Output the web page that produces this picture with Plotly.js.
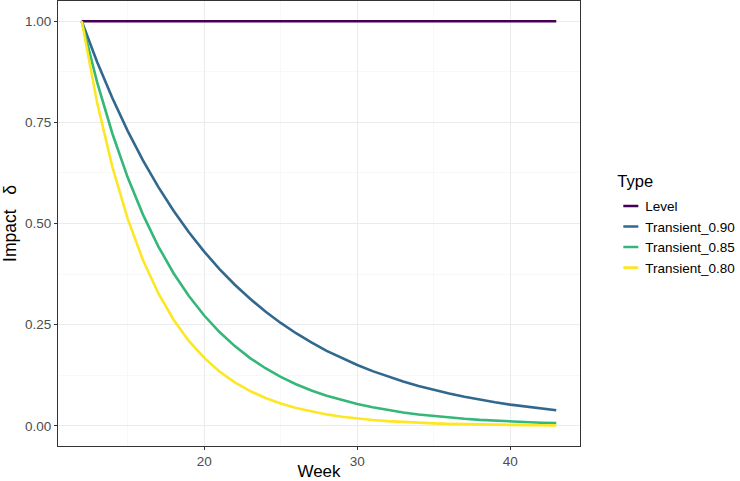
<!DOCTYPE html>
<html>
<head>
<meta charset="utf-8">
<script src="https://cdn.plot.ly/plotly-3.0.1.min.js"></script>
<style>html,body{margin:0;padding:0;background:#fff;}#chart{width:740px;height:481px;}</style>
</head>
<body>
<div id="chart"></div>
<script>
const weeks = [12,13,14,15,16,17,18,19,20,21,22,23,24,25,26,27,28,29,30,31,32,33,34,35,36,37,38,39,40,41,42,43];
const level = [1,1,1,1,1,1,1,1,1,1,1,1,1,1,1,1,1,1,1,1,1,1,1,1,1,1,1,1,1,1,1,1];
const transient090 = [1,0.9,0.81,0.729,0.6561,0.5905,0.5314,0.4783,0.4305,0.3874,0.3487,0.3138,0.2824,0.2542,0.2288,0.2059,0.1853,0.1668,0.1501,0.1351,0.1216,0.1094,0.0985,0.0886,0.0798,0.0718,0.0646,0.0582,0.0523,0.0471,0.0424,0.0382];
const transient085 = [1,0.85,0.7225,0.6141,0.5220,0.4437,0.3771,0.3206,0.2725,0.2316,0.1969,0.1673,0.1422,0.1209,0.1028,0.0874,0.0743,0.0631,0.0536,0.0456,0.0388,0.0329,0.0280,0.0238,0.0202,0.0172,0.0146,0.0124,0.0106,0.0090,0.0076,0.0065];
const transient080 = [1,0.8,0.64,0.512,0.4096,0.3277,0.2621,0.2097,0.1678,0.1342,0.1074,0.0859,0.0687,0.0550,0.0440,0.0352,0.0281,0.0225,0.0180,0.0144,0.0115,0.0092,0.0074,0.0059,0.0047,0.0038,0.0030,0.0024,0.0019,0.0015,0.0012,0.0010];
const seriesNames = ["Level","Transient_0.90","Transient_0.85","Transient_0.80"];
const seriesColors = ["#440154","#31688E","#35B779","#FDE725"];
const seriesData = [level, transient090, transient085, transient080];
const xTicks = [20,30,40];
const yTicks = [0,0.25,0.5,0.75,1];
const yTickText = ["0.00","0.25","0.50","0.75","1.00"];

const traces = seriesData.map((d,i)=>({
  x: weeks, y: d, type:"scatter", mode:"lines", name: seriesNames[i],
  line:{color:seriesColors[i], width:2.6}
}));

const axisCommon = {
  showline:true, mirror:true, linecolor:"#333333", linewidth:1.1,
  ticks:"outside", ticklen:3, tickcolor:"#333333", tickwidth:1,
  gridcolor:"#EBEBEB", gridwidth:1.1, zeroline:false, automargin:false,
  tickfont:{family:"Liberation Sans, Arial, sans-serif", size:13.5, color:"#4D4D4D"}
};
const layout = {
  width:740, height:481,
  margin:{l:58, r:160, t:1, b:35, autoexpand:false},
  paper_bgcolor:"#fff", plot_bgcolor:"#fff",
  font:{family:"Liberation Sans, Arial, sans-serif"},
  xaxis: Object.assign({}, axisCommon, {
    range:[10.45,44.55], tickvals:xTicks,
    minor:{tickvals:[15,25,35], showgrid:true, gridcolor:"#F3F3F3", gridwidth:0.6, ticks:""},
    title:{text:"Week", font:{size:17, color:"#000"}, standoff:1}
  }),
  yaxis: Object.assign({}, axisCommon, {
    range:[-0.05,1.05], tickvals:yTicks, ticktext:yTickText,
    minor:{tickvals:[0.125,0.375,0.625,0.875], showgrid:true, gridcolor:"#F3F3F3", gridwidth:0.6, ticks:""},
    title:{text:"Impact\u00a0\u00a0\u00a0δ", font:{size:17.5, color:"#000"}, standoff:4}
  }),
  legend:{
    xref:"paper", x:1.0485, xanchor:"left", y:0.622, yanchor:"top",
    title:{text:"Type", font:{size:16.5, color:"#000"}},
    font:{size:13.5, color:"#000"}, itemwidth:30, tracegroupgap:0,
    bgcolor:"rgba(0,0,0,0)"
  },
  showlegend:true
};
Plotly.newPlot("chart", traces, layout, {staticPlot:true, displayModeBar:false}).then(gd=>{
  gd.querySelectorAll('.legendlines path').forEach(p=>p.setAttribute('d','M18,0h15'));
  const t = gd.querySelector('.legendtitletext');
  if (t) {
    t.setAttribute('x', (parseFloat(t.getAttribute('x'))||0) + 10);
    t.setAttribute('y', (parseFloat(t.getAttribute('y'))||0) - 4);
  }
});
</script>
</body>
</html>
